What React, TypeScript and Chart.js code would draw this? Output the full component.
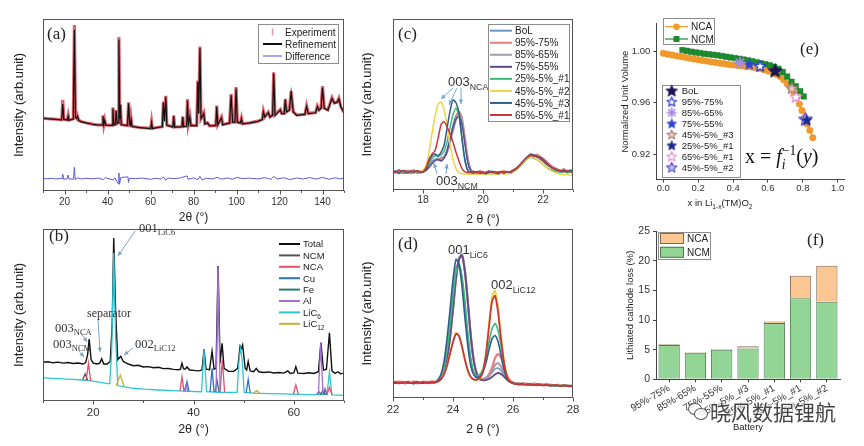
import React, { useEffect, useRef } from "react";
import { Chart, registerables } from "chart.js";

Chart.register(...registerables);

const SANS = '"Liberation Sans", Arial, Helvetica, sans-serif';
const SERIF = '"Liberation Serif", "Times New Roman", Times, serif';

/* ======================= DATA ======================= */
// (a) full-pattern refinement
const aTicks = [20, 40, 60, 80, 100, 120, 140];
const aMinorTicks = [10, 30, 50, 70, 90, 110, 130, 150];
const aNames = ["Experiment", "Refinement", "Difference"];
const aRefinement = [[10,42.2],[12,42],[14,41.8],[16,41.6],[18.7,41.3],[19.2,50.5],[19.7,41.6],[21.3,41.2],[21.7,43.5],[22.1,41.1],[24.1,41.8],[24.6,93.6],[25.1,43],[25.6,42.2],[26,43.5],[26.6,41],[28,40.2],[30,39.6],[33,38.8],[35,38.4],[37.5,38.3],[37.9,43.5],[38.3,38.6],[38.7,41],[39.2,38.3],[42.1,38.2],[42.5,48],[42.9,38.6],[43.6,38.6],[44,46.5],[44.5,39.2],[44.9,39.6],[45.3,88],[45.7,42],[46,50],[46.4,38.5],[49.3,38],[49.8,50.8],[50.4,38.2],[50.7,38],[51,41.5],[51.4,37.5],[55,36.8],[60.1,36.3],[60.5,39.8],[60.9,36.3],[63,36.8],[65.5,37.3],[66,51.5],[66.5,40.5],[66.7,40.5],[67.1,54.8],[67.6,38.2],[70.4,37.2],[70.8,43.5],[71.2,37.2],[74.6,37.3],[75,43],[75.4,37.4],[76.8,37.6],[77.2,52.5],[77.6,39],[78.3,43],[78.8,38],[81.5,38],[82,63.5],[82.4,45],[83,83],[83.5,42],[84.8,45],[85.3,39],[86.5,39.5],[87.5,37.8],[90.4,38],[90.8,49],[91.3,38.5],[93,42.5],[93.6,38.5],[96.8,39.5],[97.5,55.7],[98.2,40],[99.3,40],[99.8,59.6],[100.4,40],[101.8,39.5],[102.3,42],[102.8,39],[106,39.5],[110,40.5],[112,41.5],[112.5,46],[113.2,43],[114.8,45.5],[115.6,43],[116.8,44],[117.3,68.3],[117.9,44],[120.4,47],[121,45],[122.2,45],[122.7,53],[123.3,46],[124.6,47],[125.4,57.5],[126.4,46],[128,44],[131.8,44.5],[132.6,49],[133.4,45],[136.8,45.5],[137.6,49],[138.4,47],[139.3,48],[140,60],[140.8,48],[142.5,47],[144.4,53.8],[145.5,51],[146.8,51.5],[147.6,53.5],[148.5,49],[150,45.5]];
const aExperiment = [[10,42.4],[12,42.1],[14,41.9],[16,41.7],[18.7,41.4],[19.2,53],[19.7,41.7],[21.3,41.3],[21.7,44],[22.1,41.2],[24.1,42],[24.6,96.5],[25.1,43.2],[25.6,42.3],[26,43.8],[26.6,41.1],[28,40.3],[30,39.7],[33,38.9],[35,38.5],[37.5,38.4],[37.9,44],[38.3,38.7],[38.7,41.3],[39.2,38.4],[42.1,38.3],[42.5,48.6],[42.9,38.7],[43.6,38.7],[44,47],[44.5,39.3],[44.9,39.7],[45.3,89.5],[45.7,42.3],[46,50.6],[46.4,38.6],[49.3,38.1],[49.8,51.5],[50.4,38.3],[50.7,38.1],[51,41.8],[51.4,37.6],[55,36.9],[60.1,36.4],[60.5,40.3],[60.9,36.4],[63,36.9],[65.5,37.4],[66,52],[66.5,40.6],[66.7,40.6],[67.1,55.4],[67.6,38.3],[70.4,37.3],[70.8,44],[71.2,37.3],[74.6,37.4],[75,43.4],[75.4,37.5],[76.8,37.7],[77.2,53.5],[77.6,39.1],[78.3,43.4],[78.8,38.1],[81.5,38.1],[82,64.2],[82.4,45.2],[83,84],[83.5,42.2],[84.8,45.4],[85.3,39.1],[86.5,39.7],[87.5,37.9],[90.4,38.1],[90.8,49.6],[91.3,38.6],[93,42.9],[93.6,38.6],[96.8,39.6],[97.5,56.3],[98.2,40.1],[99.3,40.1],[99.8,60.5],[100.4,40.1],[101.8,39.6],[102.3,42.3],[102.8,39.1],[106,39.6],[110,40.6],[112,41.6],[112.5,46.4],[113.2,43.1],[114.8,45.9],[115.6,43.1],[116.8,44.2],[117.3,69],[117.9,44.2],[120.4,47.4],[121,45.1],[122.2,45.1],[122.7,53.5],[123.3,46.1],[124.6,47.2],[125.4,58],[126.4,46.1],[128,44.1],[131.8,44.6],[132.6,49.5],[133.4,45.1],[136.8,45.6],[137.6,49.4],[138.4,47.2],[139.3,48.3],[140,61],[140.8,48.2],[142.5,47.1],[144.4,54.3],[145.5,51.2],[146.8,51.8],[147.6,54],[148.5,49.2],[150,45.6]];
const aDifference = [[10,7.3],[12,7.1],[14,7.4],[16,7.0],[18,7.3],[18.8,7.0],[19.2,9.8],[19.6,6.8],[21.3,7.2],[21.7,9.3],[22.1,7],[24.2,6.9],[24.6,13.8],[25,6.5],[26,7.6],[28,7.0],[30,7.4],[33,7.1],[36,7.5],[38,6.6],[39,7.8],[42.5,6.4],[43.5,7.6],[45,4.2],[45.3,10.4],[45.6,3.9],[46.2,7.9],[49.5,8.2],[49.8,5],[50.2,7.4],[53,7.2],[56,7.5],[60,6.8],[62,7.4],[65,7.0],[66,8.2],[67.1,6.2],[68,7.5],[71,7.2],[74,7.6],[77,8.8],[77.5,6.8],[80,7.6],[82,6.6],[83,8.6],[84,6.4],[86,7.4],[89,7.0],[91,8],[93,6.9],[96,7.6],[98,6.8],[100,7.9],[103,7.2],[106,7.5],[110,7.0],[113,7.8],[116,6.8],[117.3,8.4],[119,7.0],[122,7.7],[125,6.6],[128,7.6],[131,7.0],[134,7.8],[137,6.9],[140,7.9],[143,6.8],[146,7.7],[148,7.0],[150,7.5]];

// (b) phase decomposition
const bTicks = [20, 40, 60];
const bMinorTicks = [10, 30, 50, 70];
const bNames = ["Total", "NCM", "NCA", "Cu", "Fe", "Al", "LiC_{6}", "LiC_{12}"];
const bTotal = [[10,22.5],[11,22.8],[12,22.2],[13,22.6],[14,22],[15,22.4],[16,21.8],[17,22.1],[18,21.5],[18.5,22.3],[18.9,27],[19.2,36],[19.6,24],[20,22],[20.8,21.5],[21.3,22],[21.7,24.5],[22.1,21.5],[22.8,21.5],[23.4,23],[23.8,45],[24.1,94.8],[24.5,50],[24.9,24],[25.5,26],[26,23],[27,21.5],[28,20.5],[29,20.8],[30,19.8],[31,20],[32,19.3],[33,19.6],[34,18.8],[35,18.9],[36,18.4],[37,18.2],[37.4,18.5],[37.7,22],[38,18.8],[38.3,18.5],[38.7,19.8],[39.2,18],[40,17.8],[41,17.5],[41.7,18],[42.1,30],[42.5,18.5],[43.2,18.2],[43.7,29],[44.1,18.5],[44.5,19],[44.9,78.5],[45.3,22],[45.7,33.5],[46.1,19],[47,17.2],[48,17.2],[48.8,19],[49.3,32],[49.6,30.5],[49.8,32.5],[50.3,19],[50.6,18],[50.9,23],[51.3,17.5],[52,17],[52.5,19],[53,17],[54,16.6],[55,16.9],[56,16.3],[57,16.6],[58,16.2],[58.8,17.5],[59.3,16],[60,16.3],[60.4,20],[60.8,16.2],[62,16],[63,16.4],[64,16],[64.9,17],[65.4,34],[65.9,18],[66.5,18.5],[67.1,39.7],[67.6,17.5],[68.2,16],[68.8,17],[69.3,15.8],[70,16.2]];
const bNCM = [[17.9,12.3],[18.4,15.7],[18.9,12],[19.0,null],[65.3,3.8],[65.8,6],[66.3,3.7]];
const bNCA = [[18.6,12],[19.07,22],[19.5,11.6],[19.6,null],[37.3,5.8],[37.7,14],[38.1,5.7],[38.2,null],[45.3,5.2],[45.75,24],[46.2,5.1],[46.3,null],[59.9,4],[60.4,9.3],[60.9,4],[61,null],[66.6,3.7],[67.1,8],[67.6,3.6]];
const bCu = [[38.3,5.7],[38.7,11.2],[39.1,5.6],[39.2,null],[43.3,5.3],[43.7,19],[44.1,5.3],[44.2,null],[50.5,4.8],[50.9,12.6],[51.3,4.8],[51.4,null],[65.8,3.7],[66.2,6.5],[66.6,3.7]];
const bFe = [[44.3,5.2],[44.7,12],[45.1,5.1],[45.2,null],[64.6,3.8],[65,5.5],[65.4,3.8]];
const bAl = [[38.1,5.7],[38.5,9],[38.9,5.6],[39,null],[44.5,5.2],[44.9,78],[45.3,5.2],[45.4,null],[64.9,3.8],[65.35,33.5],[65.8,5],[66.2,7.5],[66.7,3.7]];
const bLiC6 = [[10,13.5],[12,13.2],[14,12.9],[16,12.6],[18,12.2],[20,11.6],[22,10.6],[23.3,10],[23.7,30],[24.1,86],[24.5,35],[24.9,9],[26,8.4],[28,7.4],[30,6.9],[33,6.4],[36,6],[39,5.6],[41.6,5.4],[42.1,29.6],[42.6,5.4],[45,5.1],[48.7,5],[49.1,25],[49.4,30.6],[49.7,24],[50.1,5],[52,4.6],[55,4.3],[58,4.1],[61,3.9],[64,3.7],[66.6,3.7],[67.1,17],[67.6,3.6],[70,3.3]];
const bLiC12 = [[24.6,9],[25.4,15],[26.2,8.2],[26.3,null],[52,4.6],[52.6,6],[53.2,4.5]];

// (c)/(d) battery series
const batteryNames = ["BoL", "95%-75%", "85%-65%", "75%-55%", "25%-5%_#1", "45%-5%_#2", "45%-5%_#3", "65%-5%_#1"];
const cTicks = [18, 20, 22];
const cMinorTicks = [17, 19, 21, 23];
const cTheta = [17.0,17.1,17.2,17.3,17.4,17.5,17.6,17.7,17.8,17.9,18.0,18.1,18.2,18.3,18.4,18.5,18.6,18.7,18.8,18.9,19.0,19.1,19.2,19.3,19.4,19.5,19.6,19.7,19.8,19.9,20.0,20.1,20.2,20.3,20.4,20.5,20.6,20.7,20.8,20.9,21.0,21.1,21.2,21.3,21.4,21.5,21.6,21.7,21.8,21.9,22.0,22.1,22.2,22.3,22.4,22.5,22.6,22.7,22.8,22.9,23.0];
const cBoL = [10.2,11.4,10.6,9.8,11.1,10.4,11.6,10.1,10.9,10.3,11.2,12.5,14.8,16.9,18.2,17.6,18.9,19.5,23.5,30.5,38,43.5,45.3,40.5,28,16,11,10.4,9.7,10.9,10.1,9.5,10.6,10.0,9.2,10.3,9.8,10.7,9.9,10.5,11.2,12.0,13.5,15.2,16.8,18.4,19.6,20.3,19.1,19.8,18.2,16.9,15.1,13.8,12.6,11.9,11.2,10.6,11.4,10.5,10.9];
const c9575 = [11.0,10.3,11.8,10.7,10.0,11.5,10.6,11.9,10.4,11.2,10.6,12.0,14.0,16.2,17.5,18.6,18.0,19.2,22.0,28.0,35.5,42.5,46.0,42.5,31.0,18.0,11.5,10.9,10.2,11.3,10.5,9.9,11.0,10.3,10.8,9.7,10.6,11.2,10.1,10.9,11.8,12.6,14.2,16.0,17.6,19.0,20.6,19.8,20.9,19.5,18.6,17.0,15.5,14.0,13.0,12.2,11.6,12.4,11.0,11.8,11.3];
const c8565 = [10.5,11.2,10.0,10.9,11.6,10.2,10.8,10.1,11.4,10.6,11.0,11.8,13.6,15.9,17.8,18.4,17.2,18.8,21.5,27.0,34.0,40.5,44.0,41.0,30.5,18.5,12.0,10.6,10.0,10.8,9.6,10.4,11.1,9.9,10.5,10.2,11.0,9.8,10.6,10.1,11.5,12.8,14.0,15.8,17.9,19.2,20.1,19.4,20.4,19.0,17.8,16.4,15.0,13.6,12.5,12.0,11.3,11.9,10.8,11.5,11.0];
const c7555 = [10.8,10.1,11.0,10.4,9.9,10.9,10.2,11.1,10.0,10.7,10.5,11.5,13.2,15.4,17.0,17.8,17.0,18.5,22.5,29.5,36.5,41.5,43.0,38.0,26.5,15.5,11.0,10.2,10.8,9.9,10.5,10.0,10.9,10.3,9.8,10.6,10.1,10.4,10.8,10.0,11.0,12.2,13.8,15.5,17.2,18.8,19.9,20.5,19.6,19.2,18.0,16.2,14.6,13.2,12.3,11.6,11.0,11.6,10.7,11.2,10.8];
const c2551 = [9.8,10.5,9.6,10.3,9.9,10.8,9.7,10.4,10.0,10.6,10.8,12.5,15.5,18.5,20.0,19.6,20.5,22.5,28.0,36.5,44.0,48.0,43.0,30.0,17.5,11.5,10.0,9.6,10.2,9.4,10.0,9.3,9.9,9.5,10.1,9.2,9.8,9.4,10.0,9.6,10.5,11.8,13.2,15.0,16.8,18.5,19.2,18.6,17.8,16.5,15.0,13.6,12.4,11.6,11.0,10.6,10.2,10.8,10.0,10.5,10.1];
const c4552 = [10.6,10.0,10.9,10.3,10.7,10.1,10.8,10.2,10.5,10.9,11.5,14.5,22.0,33.0,43.0,50.0,51.5,47.0,38.0,27.0,18.0,12.5,10.0,9.6,9.2,9.5,9.0,9.4,9.0,9.6,9.2,9.8,9.3,9.7,9.1,9.5,9.9,9.3,9.6,9.8,10.6,11.8,13.5,15.4,17.0,18.6,19.4,18.8,17.9,16.6,15.0,13.4,12.0,11.0,10.2,9.6,9.2,8.8,9.3,8.7,9.0];
const c4553 = [10.3,10.9,10.0,11.3,10.5,9.9,11.0,10.4,10.8,10.1,10.5,12.0,17.0,20.0,21.0,20.0,22.0,26.0,36.0,46.0,52.6,51.0,45.0,30.0,17.0,11.0,10.2,10.0,10.6,9.8,10.4,9.7,10.3,10.9,10.1,9.6,10.5,10.0,10.7,10.2,11.2,12.4,14.0,16.2,18.0,19.8,21.0,20.2,19.5,18.2,16.8,15.2,13.9,12.8,12.0,11.4,11.0,11.5,10.6,11.2,10.7];
const c6551 = [10.9,10.2,11.5,10.6,11.2,10.4,11.0,10.7,11.3,10.5,10.8,13.0,18.0,21.0,23.0,30.0,38.0,40.0,37.0,33.0,28.0,22.0,17.0,12.5,10.6,10.2,10.5,10.8,10.1,10.6,9.9,10.4,10.9,10.2,10.7,10.0,10.5,10.3,10.8,10.4,11.4,12.5,14.2,16.0,17.8,19.3,20.4,19.7,20.0,18.8,17.4,15.8,14.4,13.0,12.2,11.5,11.1,10.8,11.4,10.6,11.0];

const dTicks = [22, 24, 26, 28];
const dMinorTicks = [23, 25, 27];
const dTheta = [22.0,22.1,22.2,22.3,22.4,22.5,22.6,22.7,22.8,22.9,23.0,23.1,23.2,23.3,23.4,23.5,23.6,23.7,23.8,23.9,24.0,24.1,24.2,24.3,24.4,24.5,24.6,24.7,24.8,24.9,25.0,25.1,25.2,25.3,25.4,25.5,25.6,25.7,25.8,25.9,26.0,26.1,26.2,26.3,26.4,26.5,26.6,26.7,26.8,26.9,27.0,27.1,27.2,27.3,27.4,27.5,27.6,27.7,27.8,27.9,28.0];
const dBoL = [9.2,8.6,9.5,8.9,9.8,9.0,8.7,9.4,9.1,8.5,9.3,8.8,9.6,9.0,9.4,10.2,12.8,18.0,29.0,45.0,63.0,77.0,80.0,71.0,53.0,34.0,20.5,14.0,11.5,10.8,10.9,11.6,13.0,15.0,17.0,17.7,16.2,13.5,11.2,9.6,8.9,8.5,8.3,8.8,8.0,8.5,7.9,8.4,7.7,8.2,7.6,8.1,7.4,7.9,7.3,7.8,7.2,7.6,7.0,7.5,7.1];
const d9575 = [9.6,9.0,9.9,9.3,8.8,9.7,9.2,9.8,8.9,9.5,9.1,9.7,9.2,9.9,9.6,10.0,11.5,15.0,23.0,36.0,53.0,71.0,82.0,84.0,74.0,55.0,35.0,21.0,14.0,11.5,11.2,12.0,14.0,18.0,23.5,26.0,24.0,18.5,13.5,10.5,9.2,8.6,8.5,8.1,8.7,8.2,8.0,8.6,7.8,8.3,7.9,7.5,8.1,7.6,7.4,7.9,7.3,7.7,7.2,7.0,7.4];
const d8565 = [9.0,9.4,8.7,9.6,9.1,8.9,9.5,8.6,9.3,9.0,9.7,9.1,8.8,9.4,9.2,9.8,11.2,14.6,22.5,35.5,52.5,70.5,82.5,85.0,75.0,56.0,36.0,21.5,14.0,11.6,10.9,11.4,12.8,15.8,19.4,20.7,18.6,14.6,11.5,9.8,9.0,8.5,8.0,8.6,8.2,7.9,8.4,8.0,7.6,8.2,7.7,7.9,7.4,7.8,7.2,7.6,7.3,7.0,7.5,7.1,7.3];
const d7555 = [9.3,8.8,9.2,9.7,8.9,9.4,9.0,9.6,8.7,9.2,9.5,8.9,9.3,9.7,9.1,9.9,11.3,14.8,22.8,35.8,52.8,70.8,82.2,84.5,74.5,55.5,35.5,21.2,13.8,11.2,10.4,10.6,11.2,12.4,13.9,14.8,14.2,12.6,10.8,9.6,8.9,8.4,8.6,8.0,8.4,7.8,8.3,7.7,8.1,7.9,7.5,8.0,7.6,7.3,7.8,7.4,7.1,7.6,7.2,7.0,7.3];
const d2551 = [8.8,9.3,8.6,9.1,8.5,9.4,8.9,8.4,9.2,8.7,9.0,8.6,9.3,8.9,9.5,10.3,12.8,18.0,28.0,43.0,60.0,74.0,78.0,72.0,57.0,38.0,23.0,15.0,13.0,14.0,17.5,24.0,33.0,41.0,44.0,40.0,31.0,20.0,12.5,9.6,8.8,8.4,8.2,7.8,8.4,7.9,7.6,8.2,7.7,7.4,8.0,7.5,7.8,7.3,7.6,7.2,7.5,7.0,7.4,7.1,6.9];
const d4552 = [9.4,9.0,9.7,9.2,9.6,8.9,9.5,9.1,9.8,9.3,9.0,9.6,9.2,9.7,9.4,10.0,11.5,14.5,19.5,26.5,33.5,38.5,36.5,30.0,22.0,15.5,12.0,10.8,10.6,11.8,16.0,27.0,44.0,60.0,63.5,54.0,37.0,22.0,13.0,9.8,8.8,8.4,8.3,8.7,8.1,8.5,7.9,8.3,7.8,8.1,7.6,8.0,7.5,7.8,7.4,7.7,7.2,7.5,7.1,7.3,7.0];
const d4553 = [9.0,8.7,9.3,8.9,9.5,8.8,9.2,8.6,9.4,9.0,8.7,9.3,8.9,9.5,9.4,10.8,14.0,21.5,35.0,52.0,70.0,82.0,79.0,66.0,47.0,30.0,18.5,13.5,12.2,12.8,15.5,21.0,28.5,35.0,37.0,33.5,25.5,17.0,11.6,9.5,8.7,8.3,8.0,8.4,7.8,8.2,7.7,8.1,7.6,7.9,7.4,7.8,7.3,7.7,7.2,7.5,7.1,7.4,7.0,7.2,6.9];
const d6551 = [9.1,9.6,8.8,9.3,9.0,9.5,8.7,9.2,9.6,8.9,9.4,9.0,9.5,9.1,9.3,9.9,11.3,14.2,19.0,26.0,33.0,38.0,36.8,30.5,22.5,16.0,12.3,11.0,10.8,11.9,15.6,26.0,42.0,57.0,60.5,51.0,35.0,21.0,12.6,9.7,8.7,8.3,8.1,8.5,7.9,8.4,8.0,7.7,8.2,7.8,7.5,8.0,7.6,7.3,7.8,7.4,7.1,7.5,7.2,6.9,7.2];

// (e) normalized unit volume
const eXTicks = [0, 0.2, 0.4, 0.6, 0.8, 1.0];
const eYTicks = [0.92, 0.96, 1.0];
const eNCA = [[0.0,0.9987],[0.025,0.998],[0.05,0.9974],[0.075,0.9967],[0.1,0.9962],[0.125,0.9955],[0.15,0.9949],[0.175,0.9943],[0.2,0.9937],[0.225,0.9931],[0.25,0.9926],[0.275,0.992],[0.3,0.9915],[0.325,0.991],[0.35,0.9905],[0.375,0.99],[0.4,0.9896],[0.425,0.9892],[0.45,0.9888],[0.475,0.9884],[0.5,0.988],[0.525,0.9874],[0.55,0.9867],[0.575,0.9859],[0.6,0.9849],[0.625,0.9838],[0.65,0.9822],[0.67,0.9805],[0.69,0.978],[0.71,0.975],[0.73,0.9715],[0.75,0.968],[0.765,0.964],[0.78,0.959],[0.795,0.954],[0.81,0.9485],[0.825,0.9435],[0.84,0.9385],[0.857,0.9328]];
const eNCM = [[0.11,1.0012],[0.135,1.0006],[0.16,1.0],[0.185,0.9994],[0.21,0.9989],[0.235,0.9984],[0.26,0.998],[0.285,0.9976],[0.31,0.9972],[0.335,0.9966],[0.36,0.9961],[0.385,0.9955],[0.41,0.995],[0.435,0.9944],[0.46,0.9938],[0.485,0.9932],[0.51,0.9925],[0.535,0.9918],[0.56,0.991],[0.585,0.9902],[0.61,0.9893],[0.635,0.9882],[0.66,0.9866],[0.685,0.984],[0.71,0.9805],[0.735,0.9765],[0.76,0.973],[0.785,0.969],[0.805,0.965]];
const eStarNames = ["BoL", "95%-75%", "85%-65%", "75%-55%", "45%-5%_#3", "25%-5%_#1", "65%-5%_#1", "45%-5%_#2"];
const eStarX = [0.641, 0.555, 0.44, 0.493, 0.737, 0.822, 0.76, 0.815];
const eStarY = [0.9852, 0.9888, 0.9914, 0.9902, 0.9714, 0.9466, 0.9648, 0.9474];

// (f) lithiated cathode loss
const fBatteries = ["95%-75%", "85%-65%", "75%-55%", "45%-5%_#3", "25%-5%_#1", "65%-5%_#1", "45%-5%_#2"];
const fNCM = [5.8, 4.5, 5.0, 5.2, 9.5, 13.7, 13.1];
const fNCA = [0.1, 0.05, 0.12, 0.4, 0.25, 3.8, 6.1];
const fYTicks = [0, 5, 10, 15, 20, 25];

/* ======================= HELPERS ======================= */
type Part = { t: string; mode?: number; it?: boolean };

function parseRich(s: string): Part[] {
  const out: Part[] = [];
  let buf = "";
  let i = 0;
  while (i < s.length) {
    const c = s[i];
    if ((c === "_" || c === "^") && s[i + 1] === "{") {
      if (buf) { out.push({ t: buf, mode: 0 }); buf = ""; }
      const e = s.indexOf("}", i);
      out.push({ t: s.slice(i + 2, e), mode: c === "_" ? 1 : 2 });
      i = e + 1;
    } else { buf += c; i++; }
  }
  if (buf) out.push({ t: buf, mode: 0 });
  return out;
}

function drawRich(ctx: CanvasRenderingContext2D, src: any, x: number, y: number, size: number, family: string, color: string, align: string = "left") {
  const parts: Part[] = typeof src === "string" ? parseRich(src) : src;
  const fontOf = (p: Part) => `${p.it ? "italic " : ""}${p.mode ? (size * 0.68).toFixed(1) : size}px ${family}`;
  const xs: number[] = [];
  let cx = 0, subStart = 0, subEnd = 0;
  parts.forEach((p, k) => {
    ctx.font = fontOf(p);
    const w = ctx.measureText(p.t).width;
    if (p.mode === 2 && k > 0 && parts[k - 1].mode === 1) {
      xs.push(subStart);
      cx = Math.max(subEnd, subStart + w);
    } else {
      xs.push(cx);
      if (p.mode === 1) { subStart = cx; subEnd = cx + w; }
      cx += w;
    }
  });
  const x0 = align === "center" ? x - cx / 2 : align === "right" ? x - cx : x;
  ctx.fillStyle = color;
  ctx.textAlign = "left";
  ctx.textBaseline = "alphabetic";
  parts.forEach((p, k) => {
    ctx.font = fontOf(p);
    const dy = p.mode === 1 ? size * 0.3 : p.mode === 2 ? -size * 0.42 : 0;
    ctx.fillText(p.t, x0 + xs[k], y + size * 0.36 + dy);
  });
}

function notesPlugin(ox: number, oy: number, notes: any[], arrows: number[][] = [], arrowColor = "#7fa3bf") {
  return {
    id: "notes",
    afterDraw(chart: any) {
      const ctx = chart.ctx as CanvasRenderingContext2D;
      ctx.save();
      arrows.forEach(([x1, y1, x2, y2]) => {
        const ax1 = x1 - ox, ay1 = y1 - oy, ax2 = x2 - ox, ay2 = y2 - oy;
        ctx.strokeStyle = arrowColor; ctx.fillStyle = arrowColor; ctx.lineWidth = 1;
        ctx.beginPath(); ctx.moveTo(ax1, ay1); ctx.lineTo(ax2, ay2); ctx.stroke();
        const ang = Math.atan2(ay2 - ay1, ax2 - ax1);
        const L = 4.5, W = 2.2;
        ctx.beginPath();
        ctx.moveTo(ax2, ay2);
        ctx.lineTo(ax2 - L * Math.cos(ang) + W * Math.sin(ang), ay2 - L * Math.sin(ang) - W * Math.cos(ang));
        ctx.lineTo(ax2 - L * Math.cos(ang) - W * Math.sin(ang), ay2 - L * Math.sin(ang) + W * Math.cos(ang));
        ctx.closePath(); ctx.fill();
      });
      notes.forEach((n) => drawRich(ctx, n.s, n.x - ox, n.y - oy, n.size, n.fam || SANS, n.color || "#222", n.align || "left"));
      ctx.restore();
    },
  };
}

function framePlugin(box: boolean, major: number[], minor: number[]) {
  return {
    id: "frame",
    afterDraw(chart: any) {
      const { ctx, chartArea: a, scales } = chart;
      ctx.save();
      ctx.strokeStyle = "#555"; ctx.lineWidth = 1;
      const L = Math.round(a.left) + 0.5, R = Math.round(a.right) - 0.5;
      const T = Math.round(a.top) + 0.5, B = Math.round(a.bottom) - 0.5;
      if (box) ctx.strokeRect(L, T, R - L, B - T);
      ctx.beginPath();
      major.forEach((v) => { const px = Math.round(scales.x.getPixelForValue(v)) + 0.5; ctx.moveTo(px, B); ctx.lineTo(px, B + 4); });
      minor.forEach((v) => { const px = Math.round(scales.x.getPixelForValue(v)) + 0.5; ctx.moveTo(px, B); ctx.lineTo(px, B + 2.5); });
      ctx.stroke();
      ctx.restore();
    },
  };
}

function legendPlugin(o: any) {
  return {
    id: "legbox",
    afterDraw(chart: any) {
      const ctx = chart.ctx as CanvasRenderingContext2D;
      ctx.save();
      if (o.frame) {
        const [fx, fy, fw, fh] = o.frame;
        ctx.strokeStyle = "#8c8c8c"; ctx.lineWidth = 1;
        ctx.strokeRect(Math.round(fx - o.ox) + 0.5, Math.round(fy - o.oy) + 0.5, fw, fh);
      }
      o.items.forEach((it: any, i: number) => {
        const cy = o.y - o.oy + i * o.rowH;
        const x0 = o.x - o.ox, x1 = x0 + o.sampleW, xm = (x0 + x1) / 2;
        if (it.kind === "line" || it.kind === "lm") {
          ctx.strokeStyle = it.color; ctx.lineWidth = it.lw || 2;
          ctx.beginPath(); ctx.moveTo(x0, cy); ctx.lineTo(x1, cy); ctx.stroke();
        }
        if (it.kind === "lm") {
          ctx.fillStyle = it.fill || it.color;
          if (it.marker === "square") ctx.fillRect(xm - 3, cy - 3, 6, 6);
          else { ctx.beginPath(); ctx.arc(xm, cy, 3.3, 0, Math.PI * 2); ctx.fill(); }
        }
        if (it.kind === "tick") {
          ctx.strokeStyle = it.color; ctx.lineWidth = 1.5;
          ctx.beginPath(); ctx.moveTo(xm, cy - 3.5); ctx.lineTo(xm, cy + 3.5); ctx.stroke();
        }
        if (it.kind === "rect") {
          ctx.fillStyle = it.fill; ctx.fillRect(x0, cy - o.rectH / 2, o.sampleW, o.rectH);
          ctx.strokeStyle = it.color; ctx.lineWidth = 1;
          ctx.strokeRect(x0 + 0.5, cy - o.rectH / 2 + 0.5, o.sampleW - 1, o.rectH - 1);
        }
        if (it.kind === "img") {
          ctx.drawImage(it.img, xm - it.img.width / 2, cy - it.img.height / 2);
        }
        drawRich(ctx, it.t, x1 + o.gap, cy, o.size, SANS, "#222", "left");
      });
      ctx.restore();
    },
  };
}

function makeStar(R: number, fill: string, stroke: string, lw: number) {
  const s = Math.ceil(2 * R + lw + 3);
  const c = document.createElement("canvas");
  c.width = s; c.height = s;
  const g = c.getContext("2d")!;
  g.translate(s / 2, s / 2 + R * 0.08);
  g.beginPath();
  for (let k = 0; k < 10; k++) {
    const r = k % 2 === 0 ? R : R * 0.45;
    const an = -Math.PI / 2 + (k * Math.PI) / 5;
    if (k === 0) g.moveTo(r * Math.cos(an), r * Math.sin(an));
    else g.lineTo(r * Math.cos(an), r * Math.sin(an));
  }
  g.closePath();
  g.fillStyle = fill; g.fill();
  if (lw > 0) { g.lineWidth = lw; g.strokeStyle = stroke; g.lineJoin = "round"; g.stroke(); }
  return c;
}

function makeAsterisk(R: number, color: string, lw: number) {
  const s = Math.ceil(2 * R + lw + 3);
  const c = document.createElement("canvas");
  c.width = s; c.height = s;
  const g = c.getContext("2d")!;
  g.translate(s / 2, s / 2);
  g.strokeStyle = color; g.lineWidth = lw; g.lineCap = "round";
  g.beginPath();
  for (let k = 0; k < 4; k++) {
    const an = (k * Math.PI) / 4;
    g.moveTo(-R * Math.cos(an), -R * Math.sin(an));
    g.lineTo(R * Math.cos(an), R * Math.sin(an));
  }
  g.stroke();
  return c;
}

const pts = (arr: any[]) => arr.map((p) => ({ x: p[0], y: p[1] }));
const gridPts = (xs: number[], ys: number[]) => xs.map((x, i) => ({ x, y: ys[i] }));

function baseOptions(pad: any) {
  return {
    responsive: false,
    maintainAspectRatio: false,
    animation: false,
    events: [],
    layout: { padding: pad },
    plugins: { legend: { display: false }, tooltip: { enabled: false } },
  };
}

function xrdScales(p: any) {
  return {
    x: {
      type: "linear", min: p.min, max: p.max,
      grid: { display: false, drawTicks: false }, border: { display: false },
      afterBuildTicks: (s: any) => { s.ticks = p.ticks.map((v: number) => ({ value: v })); },
      afterFit: (s: any) => { s.height = p.xH; },
      ticks: { padding: p.tickPad, color: "#333", font: { family: SANS, size: p.tickSize }, maxRotation: 0, autoSkip: false },
      title: { display: true, text: p.xTitle, color: "#222", font: { family: SANS, size: p.titleSize }, padding: { top: 0, bottom: p.xTitlePad } },
    },
    y: {
      type: "linear", min: 0, max: 100,
      grid: { display: false, drawTicks: false }, border: { display: false },
      ticks: { display: false },
      afterFit: (s: any) => { s.width = p.yW; },
      title: { display: true, text: "Intensity (arb.unit)", color: "#222", font: { family: SANS, size: 13 }, padding: { top: p.yTitlePad, bottom: 0 } },
    },
  };
}

const cdColors = ["#6b93c4", "#e77d7d", "#a99aa8", "#5d4b8c", "#3fb977", "#eed44a", "#2f5d8c", "#c9363a"];

/* ======================= APP ======================= */
export default function App() {
  const ra = useRef<HTMLCanvasElement>(null);
  const rb = useRef<HTMLCanvasElement>(null);
  const rc = useRef<HTMLCanvasElement>(null);
  const rd = useRef<HTMLCanvasElement>(null);
  const re = useRef<HTMLCanvasElement>(null);
  const rf = useRef<HTMLCanvasElement>(null);

  useEffect(() => {
    Chart.defaults.font.family = SANS;
    const charts: any[] = [];

    /* ---- (a) ---- */
    charts.push(new Chart(ra.current!, {
      type: "scatter",
      data: {
        datasets: [
          { label: aNames[2], data: pts(aDifference), showLine: true, borderColor: "#5b5bd6", borderWidth: 1, pointRadius: 0, order: 0 },
          { label: aNames[1], data: pts(aRefinement), showLine: true, borderColor: "#111", borderWidth: 1.2, pointRadius: 0, order: 1 },
          { label: aNames[0], data: pts(aExperiment), showLine: true, borderColor: "rgba(205,45,60,0.75)", borderWidth: 3.2, pointRadius: 0, order: 2 },
        ],
      },
      options: {
        ...baseOptions({ left: 0, right: 16, top: 19, bottom: 0 }),
        scales: xrdScales({ min: 10, max: 150, ticks: aTicks, xH: 39, yW: 43, tickPad: 5, tickSize: 10, xTitle: "2θ (°)", titleSize: 12, xTitlePad: 4.8, yTitlePad: 12 }),
      } as any,
      plugins: [
        framePlugin(true, aTicks, aMinorTicks),
        legendPlugin({ ox: 0, oy: 0, x: 263, y: 32, rowH: 12, sampleW: 19, gap: 3, size: 10, frame: [258, 24, 80, 39],
          items: [
            { t: aNames[0], kind: "tick", color: "#e79aa2" },
            { t: aNames[1], kind: "line", color: "#111", lw: 2 },
            { t: aNames[2], kind: "line", color: "#6a6ad8", lw: 1.2 },
          ] }),
        notesPlugin(0, 0, [{ s: "(a)", x: 47, y: 33, size: 17, fam: SERIF, color: "#222" }]),
      ],
    } as any));

    /* ---- (b) ---- */
    const bColors = ["#111", "#555", "#e2506a", "#2f6fc0", "#2a8070", "#a36fd6", "#2fc6d2", "#c9b030"];
    const bData = [bTotal, bNCM, bNCA, bCu, bFe, bAl, bLiC6, bLiC12];
    const bOrder = [10, 6, 5, 4, 3, 2, 7, 1];
    charts.push(new Chart(rb.current!, {
      type: "scatter",
      data: {
        datasets: bData.map((d, i) => ({
          label: bNames[i], data: pts(d), showLine: true, borderColor: bColors[i], borderWidth: i === 0 ? 1.4 : 1.3, pointRadius: 0, order: bOrder[i], spanGaps: false,
        })),
      },
      options: {
        ...baseOptions({ left: 0, right: 16, top: 7, bottom: 0 }),
        scales: xrdScales({ min: 10, max: 70, ticks: bTicks, xH: 45, yW: 43, tickPad: 5, tickSize: 11.5, xTitle: "2θ (°)", titleSize: 12.5, xTitlePad: 8.5, yTitlePad: 12 }),
      } as any,
      plugins: [
        framePlugin(true, bTicks, bMinorTicks),
        legendPlugin({ ox: 0, oy: 222, x: 279, y: 244, rowH: 11.4, sampleW: 21, gap: 3, size: 9.5,
          items: bNames.map((n, i) => ({ t: n, kind: "line", color: bColors[i], lw: 2 })) }),
        notesPlugin(0, 222, [
          { s: "(b)", x: 49, y: 235, size: 17, fam: SERIF },
          { s: "001_{LiC6}", x: 139, y: 227, size: 12.5, fam: SERIF, color: "#333" },
          { s: "separator", x: 87, y: 313, size: 12, fam: SERIF, color: "#333" },
          { s: "003_{NCA}", x: 55, y: 327, size: 12.5, fam: SERIF, color: "#333" },
          { s: "003_{NCM}", x: 53, y: 343, size: 12.5, fam: SERIF, color: "#333" },
          { s: "002_{LiC12}", x: 135, y: 343, size: 12.5, fam: SERIF, color: "#333" },
        ], [
          [135, 231, 118, 256],
          [98, 319, 100, 352],
          [81, 333, 87, 342],
          [78, 350, 84, 357],
          [133, 348, 124, 355],
        ]),
      ],
    } as any));

    /* ---- (c) ---- */
    const cData = [cBoL, c9575, c8565, c7555, c2551, c4552, c4553, c6551];
    charts.push(new Chart(rc.current!, {
      type: "scatter",
      data: {
        datasets: cData.map((d, i) => ({
          label: batteryNames[i], data: gridPts(cTheta, d), showLine: true, borderColor: cdColors[i], borderWidth: 1.5, pointRadius: 0, tension: 0.25,
          order: 8 - i,
        })),
      },
      options: {
        ...baseOptions({ left: 0, right: 37, top: 19, bottom: 0 }),
        scales: xrdScales({ min: 17, max: 23, ticks: cTicks, xH: 40, yW: 33, tickPad: 3.7, tickSize: 10.5, xTitle: "2 θ (°)", titleSize: 12.2, xTitlePad: 2.7, yTitlePad: 0 }),
      } as any,
      plugins: [
        framePlugin(true, cTicks, cMinorTicks),
        legendPlugin({ ox: 360, oy: 0, x: 490, y: 30.7, rowH: 12.04, sampleW: 22, gap: 3, size: 10, frame: [488, 24, 81, 97],
          items: batteryNames.map((n, i) => ({ t: n, kind: "line", color: cdColors[i], lw: 2 })) }),
        notesPlugin(360, 0, [
          { s: "(c)", x: 398, y: 33, size: 17, fam: SERIF },
          { s: "003_{NCA}", x: 448, y: 81, size: 13, color: "#333" },
          { s: "003_{NCM}", x: 436, y: 180, size: 13, color: "#333" },
        ], [
          [453, 88, 441, 99],
          [457, 88, 449, 105],
          [461, 88, 461, 104],
          [437, 174, 434, 163],
          [446, 174, 447, 164],
        ], "#6fa8d8"),
      ],
    } as any));

    /* ---- (d) ---- */
    const dData = [dBoL, d9575, d8565, d7555, d2551, d4552, d4553, d6551];
    const dWidths = [1.5, 2.2, 2.2, 1.8, 1.6, 1.8, 1.6, 1.8];
    charts.push(new Chart(rd.current!, {
      type: "scatter",
      data: {
        datasets: dData.map((d, i) => ({
          label: batteryNames[i], data: gridPts(dTheta, d), showLine: true, borderColor: cdColors[i], borderWidth: dWidths[i], pointRadius: 0, tension: 0.25,
          order: 8 - i,
        })),
      },
      options: {
        ...baseOptions({ left: 0, right: 37, top: 7, bottom: 0 }),
        scales: xrdScales({ min: 22, max: 28, ticks: dTicks, xH: 48, yW: 33, tickPad: 5.1, tickSize: 11.4, xTitle: "2 θ (°)", titleSize: 12.2, xTitlePad: 8.7, yTitlePad: 0 }),
      } as any,
      plugins: [
        framePlugin(true, dTicks, dMinorTicks),
        notesPlugin(360, 222, [
          { s: "(d)", x: 398, y: 243, size: 17, fam: SERIF },
          { s: "001_{LiC6}", x: 448, y: 249, size: 13, color: "#333" },
          { s: "002_{LiC12}", x: 491, y: 284, size: 13, color: "#333" },
        ]),
      ],
    } as any));

    /* ---- (e) ---- */
    const starImgs = [
      makeStar(7.5, "#1d1552", "#1d1552", 0.8),
      makeStar(5.8, "#eef0ff", "#2b3fd0", 1.3),
      makeAsterisk(5.2, "#a58ae6", 1.8),
      makeStar(5.5, "#2c44d8", "#2c44d8", 0.8),
      makeStar(5.8, "#e8cac4", "#a8807a", 1.2),
      makeStar(5.5, "#1a2a8c", "#1a2a8c", 0.8),
      makeStar(5.8, "#ffffff", "#f08ad0", 1.3),
      makeStar(7, "#c2c2f6", "#5b4fd0", 1.3),
    ];
    const legendStars = [
      makeStar(6.2, "#1d1552", "#1d1552", 0.8),
      makeStar(5, "#eef0ff", "#2b3fd0", 1.2),
      makeAsterisk(4.6, "#a58ae6", 1.6),
      makeStar(5, "#2c44d8", "#2c44d8", 0.8),
      makeStar(5, "#e8cac4", "#a8807a", 1.1),
      makeStar(5, "#1a2a8c", "#1a2a8c", 0.8),
      makeStar(5, "#ffffff", "#f08ad0", 1.2),
      makeStar(5.4, "#c2c2f6", "#5b4fd0", 1.2),
    ];
    const starSets = eStarNames.map((n, i) => ({
      label: n, data: [{ x: eStarX[i], y: eStarY[i] }], pointStyle: starImgs[i], pointRadius: 5, showLine: false, order: 0,
    }));
    charts.push(new Chart(re.current!, {
      type: "scatter",
      data: {
        datasets: [
          ...starSets,
          { label: "NCM", data: pts(eNCM), showLine: true, borderColor: "#1f8b2f", borderWidth: 1, pointStyle: "rect", pointRadius: 3.9, pointBackgroundColor: "#1f8b2f", pointBorderColor: "#1a7a28", pointBorderWidth: 0.5, order: 1 },
          { label: "NCA", data: pts(eNCA), showLine: true, borderColor: "#f0962a", borderWidth: 1, pointStyle: "circle", pointRadius: 3.2, pointBackgroundColor: "#f39a2c", pointBorderColor: "#e8891a", pointBorderWidth: 0.5, order: 2 },
        ],
      },
      options: {
        ...baseOptions({ left: 0, right: 19.3, top: 23.5, bottom: 0 }),
        scales: {
          x: {
            type: "linear", min: -0.04, max: 1.04,
            afterBuildTicks: (s: any) => { s.ticks = eXTicks.map((v) => ({ value: v })); },
            afterFit: (s: any) => { s.height = 42.4; },
            grid: { display: true, drawOnChartArea: false, drawTicks: true, tickLength: 3, color: "#444" },
            border: { display: true, color: "#444" },
            ticks: { padding: 0, color: "#333", font: { family: SANS, size: 9.5 }, maxRotation: 0, autoSkip: false, callback: (v: any) => Number(v).toFixed(1) },
            title: { display: false },
          },
          y: {
            type: "linear", min: 0.9, max: 1.022,
            afterBuildTicks: (s: any) => { s.ticks = eYTicks.map((v) => ({ value: v })); },
            afterFit: (s: any) => { s.width = 46.3; },
            grid: { display: true, drawOnChartArea: false, drawTicks: true, tickLength: 3, color: "#444" },
            border: { display: true, color: "#444" },
            ticks: { padding: 3, color: "#333", font: { family: SANS, size: 9.5 }, callback: (v: any) => Number(v).toFixed(2) },
            title: { display: true, text: "Normalized Unit Volume", color: "#222", font: { family: SANS, size: 9.5 }, padding: { top: 9.3, bottom: 0 } },
          },
        },
      } as any,
      plugins: [
        legendPlugin({ ox: 610, oy: 0, x: 665, y: 26.7, rowH: 12.3, sampleW: 23, gap: 3, size: 10, frame: [663, 18, 51, 26],
          items: [
            { t: "NCA", kind: "lm", color: "#f0962a", fill: "#f39a2c", marker: "circle", lw: 1.2 },
            { t: "NCM", kind: "lm", color: "#1f8b2f", fill: "#1f8b2f", marker: "square", lw: 1.2 },
          ] }),
        legendPlugin({ ox: 610, oy: 0, x: 666.7, y: 90.7, rowH: 10.94, sampleW: 10, gap: 5, size: 9.5, frame: [662, 85, 78, 92],
          items: eStarNames.map((n, i) => ({ t: n, kind: "img", img: legendStars[i], color: "#000" })) }),
        notesPlugin(610, 0, [
          { s: "(e)", x: 800, y: 47.5, size: 17, fam: SERIF },
          { s: [{ t: "x = " }, { t: "f", it: true }, { t: "i", mode: 1, it: true }, { t: "−1", mode: 2 }, { t: "(" }, { t: "y", it: true }, { t: ")" }], x: 745, y: 156, size: 20, fam: SERIF, color: "#111" },
          { s: "x in Li_{1-x}(TM)O_{2}", x: 720, y: 203, size: 9.5, align: "center", color: "#222" },
        ]),
      ],
    } as any));

    /* ---- (f) ---- */
    charts.push(new Chart(rf.current!, {
      type: "bar",
      data: {
        labels: fBatteries,
        datasets: [
          { label: "NCM", data: fNCM, backgroundColor: "#93d497", borderColor: "#4f7c4f", borderWidth: 1, barPercentage: 0.9, categoryPercentage: 0.9 },
          { label: "NCA", data: fNCA, backgroundColor: "#fcc692", borderColor: "#7d6a55", borderWidth: 1, barPercentage: 0.9, categoryPercentage: 0.9 },
        ],
      },
      options: {
        ...baseOptions({ left: 0, right: 24, top: 8, bottom: 0 }),
        scales: {
          x: {
            stacked: true,
            afterFit: (s: any) => { s.height = 66.7; },
            grid: { display: true, drawOnChartArea: false, drawTicks: true, tickLength: 3, color: "#444", offset: false },
            border: { display: true, color: "#444" },
            ticks: { padding: 0, color: "#333", font: { family: SANS, size: 10 }, minRotation: 30, maxRotation: 30, autoSkip: false },
            title: { display: true, text: "Battery", color: "#222", font: { family: SANS, size: 9.5 }, padding: { top: 0, bottom: 13.3 } },
          },
          y: {
            stacked: true, min: 0, max: 25,
            afterBuildTicks: (s: any) => { s.ticks = fYTicks.map((v) => ({ value: v })); },
            afterFit: (s: any) => { s.width = 46; },
            grid: { display: true, drawOnChartArea: false, drawTicks: true, tickLength: 3, color: "#444" },
            border: { display: true, color: "#444" },
            ticks: { padding: 3, color: "#333", font: { family: SANS, size: 10.5 } },
            title: { display: true, text: "Lithiated cathode loss (%)", color: "#222", font: { family: SANS, size: 9.5 }, padding: { top: 15, bottom: 0 } },
          },
        },
      } as any,
      plugins: [
        legendPlugin({ ox: 610, oy: 222, x: 660, y: 238.5, rowH: 13.8, sampleW: 24, gap: 3, size: 10, rectH: 11, frame: [658, 232, 52, 27],
          items: [
            { t: "NCA", kind: "rect", fill: "#fcc692", color: "#7d6a55" },
            { t: "NCM", kind: "rect", fill: "#93d497", color: "#4f7c4f" },
          ] }),
        notesPlugin(610, 222, [{ s: "(f)", x: 807, y: 239, size: 17, fam: SERIF }]),
      ],
    } as any));

    return () => charts.forEach((c) => c.destroy());
  }, []);

  const cv = (left: number, top: number) => ({ position: "absolute" as const, left, top });

  return (
    <div style={{ position: "absolute", left: 0, top: 0, width: 864, height: 446, background: "#fff", overflow: "hidden" }}>
      <canvas ref={ra} width={360} height={230} style={cv(0, 0)} />
      <canvas ref={rb} width={360} height={224} style={cv(0, 222)} />
      <canvas ref={rc} width={250} height={230} style={cv(360, 0)} />
      <canvas ref={rd} width={250} height={224} style={cv(360, 222)} />
      <canvas ref={re} width={254} height={222} style={cv(610, 0)} />
      <canvas ref={rf} width={254} height={224} style={cv(610, 222)} />
      <div style={{ position: "absolute", left: 688, top: 398, height: 26, display: "flex", alignItems: "center", pointerEvents: "none" }}>
        <div style={{ position: "relative", width: 20, height: 18, marginRight: 2 }}>
          <div style={{ position: "absolute", left: 0, top: 1, width: 12, height: 10, border: "1.5px solid #555", borderRadius: "50%", background: "rgba(255,255,255,0.85)" }} />
          <div style={{ position: "absolute", left: 6, top: 6, width: 12, height: 10, border: "1.5px solid #555", borderRadius: "50%", background: "rgba(255,255,255,0.85)" }} />
        </div>
        <span style={{ fontFamily: '"Noto Sans CJK SC", sans-serif', fontSize: 21, color: "#444", lineHeight: "26px", textShadow: "0 0 2px #fff, 0 0 2px #fff, 0 0 3px #fff" }}>晓风数据锂航</span>
      </div>
    </div>
  );
}
